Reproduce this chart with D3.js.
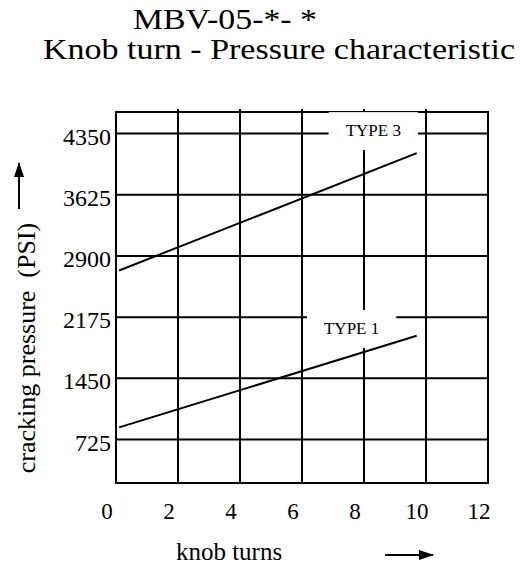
<!DOCTYPE html>
<html>
<head>
<meta charset="utf-8">
<script src="https://cdn.jsdelivr.net/npm/d3@7"></script>
<style>
  body { margin: 0; background: #fff; }
  text { font-family: "Liberation Serif", "Times New Roman", serif; fill: #000; }
</style>
</head>
<body>
<div id="d3-container"></div>
<script>
/**
 * DATA
 * */
const xTicks = [0, 2, 4, 6, 8, 10, 12];
const pressureTicks = [725, 1450, 2175, 2900, 3625, 4350];
const seriesNames = ["TYPE 3", "TYPE 1"];
const knobTurns = [0.1, 9.7];
const type3Pressure = [2728, 4118];
const type1Pressure = [869, 1955];
// where the series name sits (knob turns, psi)
const labelTurns = [8.3, 7.6];
const labelPressure = [4320, 1975];

/**
 * CONSTANTS
 * */
const width = 530,
  height = 567,
  margin = { top: 112, bottom: 84, left: 116, right: 42 };

const svg = d3
  .select("#d3-container")
  .append("svg")
  .attr("width", width)
  .attr("height", height);

// SCALES
const xScale = d3
  .scaleLinear()
  .domain([0, 12])
  .range([margin.left, width - margin.right]);

const yScale = d3
  .scaleLinear()
  .domain([210, 4606])
  .range([height - margin.bottom, margin.top]);

// TITLES
svg.append("text")
  .attr("x", 133)
  .attr("y", 29)
  .attr("font-size", 30)
  .attr("textLength", 184)
  .attr("lengthAdjust", "spacingAndGlyphs")
  .text("MBV-05-*- *");

svg.append("text")
  .attr("x", 43)
  .attr("y", 59)
  .attr("font-size", 30)
  .attr("textLength", 472)
  .attr("lengthAdjust", "spacingAndGlyphs")
  .text("Knob turn - Pressure characteristic");

// GRID
const grid = svg.append("g").attr("stroke", "#000").attr("stroke-width", 2);

grid.selectAll(".vline")
  .data(xTicks.slice(1, -1))
  .join("line")
  .attr("class", "vline")
  .attr("x1", d => xScale(d))
  .attr("x2", d => xScale(d))
  .attr("y1", yScale.range()[1] - 3)
  .attr("y2", yScale.range()[0]);

grid.selectAll(".hline")
  .data(pressureTicks)
  .join("line")
  .attr("class", "hline")
  .attr("x1", xScale.range()[0])
  .attr("x2", xScale.range()[1])
  .attr("y1", d => yScale(d))
  .attr("y2", d => yScale(d));

grid.append("rect")
  .attr("x", xScale.range()[0])
  .attr("y", yScale.range()[1])
  .attr("width", xScale.range()[1] - xScale.range()[0])
  .attr("height", yScale.range()[0] - yScale.range()[1])
  .attr("fill", "none");

// AXIS LABELS (ticks)
svg.append("g")
  .selectAll("text")
  .data(pressureTicks)
  .join("text")
  .attr("x", margin.left - 5)
  .attr("y", d => yScale(d) + 11)
  .attr("text-anchor", "end")
  .attr("font-size", 24)
  .text(d => d);

svg.append("g")
  .selectAll("text")
  .data(xTicks)
  .join("text")
  .attr("x", d => xScale(d) - 9)
  .attr("y", d => yScale.range()[0] + 36)
  .attr("text-anchor", "middle")
  .attr("font-size", 23)
  .text(d => d);

// SERIES LABELS with white patch behind them
const labels = svg.append("g")
  .selectAll("g")
  .data(seriesNames)
  .join("g")
  .attr("transform", (d, i) => `translate(${xScale(labelTurns[i])},${yScale(labelPressure[i])})`);

labels.append("text")
  .attr("text-anchor", "middle")
  .attr("font-size", 17)
  .text(d => d);

labels.insert("rect", "text")
  .attr("fill", "#fff")
  .each(function() {
    const w = this.parentNode.querySelector("text").getComputedTextLength() + 34;
    d3.select(this)
      .attr("x", -w / 2)
      .attr("width", w)
      .attr("y", -24)
      .attr("height", 38);
  });

// LINES
const line = d3.line()
  .x(d => xScale(d[0]))
  .y(d => yScale(d[1]));

svg.selectAll(".series")
  .data([type3Pressure, type1Pressure])
  .join("path")
  .attr("class", "series")
  .attr("fill", "none")
  .attr("stroke", "#000")
  .attr("stroke-width", 2)
  .attr("d", vals => line(knobTurns.map((t, i) => [t, vals[i]])));

// AXIS TITLES + ARROWS
svg.append("defs")
  .append("marker")
  .attr("id", "arrow")
  .attr("viewBox", "0 0 15 10")
  .attr("refX", 14)
  .attr("refY", 5)
  .attr("markerWidth", 15)
  .attr("markerHeight", 10)
  .attr("markerUnits", "userSpaceOnUse")
  .attr("orient", "auto")
  .append("path")
  .attr("d", "M0,0 L15,5 L0,10 Z")
  .attr("fill", "#000");

svg.append("text")
  .attr("x", 229)
  .attr("y", 560)
  .attr("text-anchor", "middle")
  .attr("font-size", 25)
  .text("knob turns");

svg.append("line")
  .attr("x1", 385).attr("x2", 433)
  .attr("y1", 555).attr("y2", 555)
  .attr("stroke", "#000")
  .attr("stroke-width", 2)
  .attr("marker-end", "url(#arrow)");

svg.append("text")
  .attr("transform", "translate(35,348) rotate(-90)")
  .attr("text-anchor", "middle")
  .attr("font-size", 26)
  .attr("xml:space", "preserve")
  .text("cracking pressure  (PSI)");

svg.append("line")
  .attr("x1", 19).attr("x2", 19)
  .attr("y1", 209).attr("y2", 163)
  .attr("stroke", "#000")
  .attr("stroke-width", 2)
  .attr("marker-end", "url(#arrow)");
</script>
</body>
</html>
